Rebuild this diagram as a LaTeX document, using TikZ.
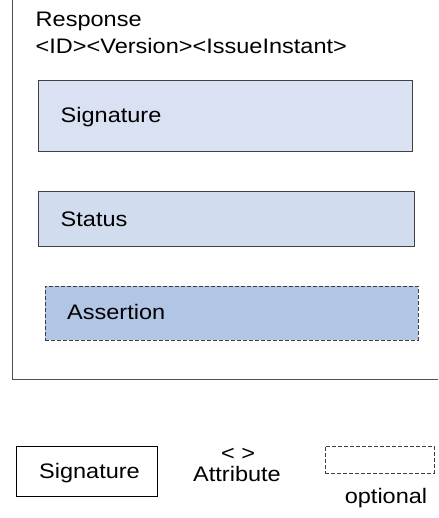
\documentclass[tikz,border=0pt]{standalone}
\usepackage{fontspec}
\setmainfont{Liberation Sans}[FakeStretch=1.12]
\definecolor{framegray}{HTML}{505050}
\definecolor{boxline}{HTML}{404040}
\definecolor{sigfill}{HTML}{DAE1F2}
\definecolor{statfill}{HTML}{D1DCEF}
\definecolor{assfill}{HTML}{B1C5E4}
\tikzset{
  lbl/.style={inner sep=0pt, anchor=base west, font=\fontsize{21}{26}\selectfont},
  clbl/.style={inner sep=0pt, anchor=base, font=\fontsize{21}{26}\selectfont},
  elem/.style={draw=boxline, line width=1pt, inner sep=0pt, rectangle},
  optbox/.style={draw=boxline, line width=0.9pt, dash pattern=on 4pt off 2pt, inner sep=0pt, rectangle},
}
\begin{document}
\begin{tikzpicture}[x=1pt, y=-1pt]
  \clip (0,0) rectangle (438,518);
  \fill[white] (0,0) rectangle (438,518);

  % Response element frame (top and right edges run off the page)
  \draw[draw=framegray, line width=1pt] (12.7,-10) rectangle (450,379);
  \node[lbl] (resp) at (35.5,26.6) {Response};
  \node[lbl] (attrs) at (35.5,53.6) {<ID><Version><IssueInstant>};

  % child elements
  \node[elem, fill=sigfill, minimum width=374.5pt, minimum height=71pt] (sig) at (225.25,116.5) {};
  \node[lbl] (sigtxt) at (60.5,122.5) {Signature};

  \node[elem, fill=statfill, minimum width=376pt, minimum height=54pt] (status) at (226,219) {};
  \node[lbl] (stattxt) at (60.5,226.3) {Status};

  \node[optbox, fill=assfill, minimum width=373pt, minimum height=54pt] (assertion) at (231.5,313) {};
  \node[lbl] (asstxt) at (67,319.8) {Assertion};

  % legend
  \node[elem, draw=black, line width=0.9pt, minimum width=141pt, minimum height=50pt] (legsig) at (86.5,471) {};
  \node[clbl] (legsigtxt) at (89.5,478) {Signature};
  \node[clbl] (legangle) at (238,460) {< >};
  \node[clbl] (legattr) at (237,481.5) {Attribute};
  \node[optbox, minimum width=109pt, minimum height=27pt] (legopt) at (379.5,459.5) {};
  \node[clbl] (legopttxt) at (386,503.5) {optional};
\end{tikzpicture}
\end{document}
